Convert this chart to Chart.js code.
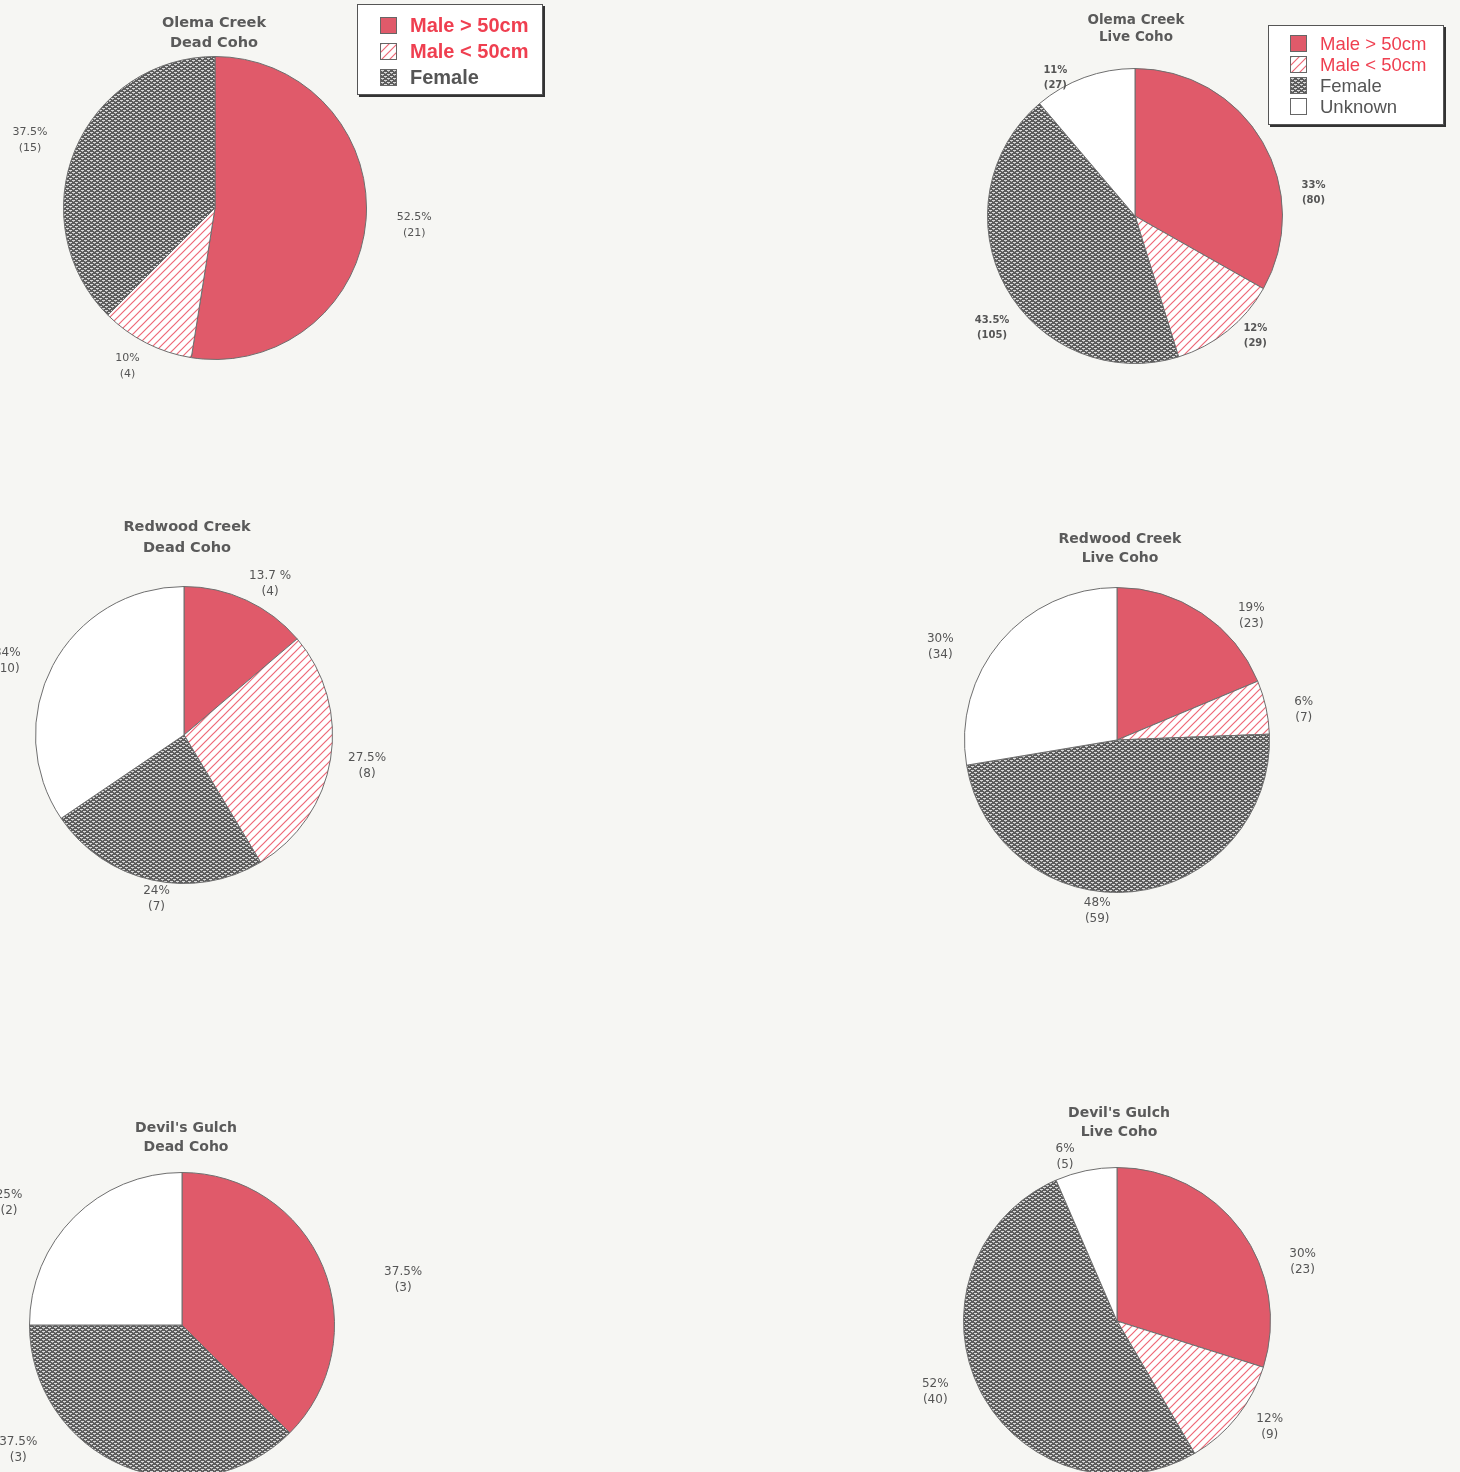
<!DOCTYPE html>
<html>
<head>
<meta charset="utf-8">
<script src="https://cdn.jsdelivr.net/npm/chart.js@4.4.1/dist/chart.umd.min.js"></script>
<style>
  body { margin: 0; width: 1460px; height: 1472px; overflow: hidden; background: #f6f6f3; position: relative; font-family: "DejaVu Sans", sans-serif; }
  canvas.pie { position: absolute; }
  .title { position: absolute; transform: translateX(-50%); text-align: center; font-weight: bold; color: #5a5a5a; white-space: nowrap; }
  .legend { position: absolute; background: #fff; border: 1px solid #555; box-shadow: 2px 2px 0 #333; font-family: "Liberation Sans", Arial, sans-serif; }
  .legend .row { position: absolute; white-space: nowrap; display: flex; align-items: center; }
  .legend canvas { border: 1px solid #666; margin-right: 13px; }
</style>
</head>
<body>
<script>
// categories + counts
const categories = ['Male > 50cm', 'Male < 50cm', 'Female', 'Unknown'];

const olemaDead = [21, 4, 15];
const olemaLive = [80, 29, 105, 27];
const redwoodDead = [4, 8, 7, 10];
const redwoodLive = [23, 7, 59, 34];
const devilsDead = [3, 0, 3, 2];
const devilsLive = [23, 9, 40, 5];

// percentages as printed on the chart
const olemaDeadPct = ['52.5%', '10%', '37.5%'];
const olemaLivePct = ['33%', '12%', '43.5%', '11%'];
const redwoodDeadPct = ['13.7 %', '27.5%', '24%', '34%'];
const redwoodLivePct = ['19%', '6%', '48%', '30%'];
const devilsDeadPct = ['37.5%', '', '37.5%', '25%'];
const devilsLivePct = ['30%', '12%', '52%', '6%'];

const RED = '#e05a6a';

function hatchPattern(ctxSrc) {
    const c = document.createElement('canvas');
    c.width = c.height = 8;
    const x = c.getContext('2d');
    x.fillStyle = '#fff';
    x.fillRect(0, 0, 8, 8);
    x.strokeStyle = '#ee6877';
    x.lineWidth = 1.2;
    x.beginPath();
    x.moveTo(0, 8); x.lineTo(8, 0);
    x.moveTo(-2, 2); x.lineTo(2, -2);
    x.moveTo(6, 10); x.lineTo(10, 6);
    x.stroke();
    return ctxSrc.createPattern(c, 'repeat');
}

// grey speckle for Female (brick of small white blobs)
function specklePattern(ctxSrc) {
    const c = document.createElement('canvas');
    c.width = 6;
    c.height = 4;
    const x = c.getContext('2d');
    x.fillStyle = '#5c5c5c';
    x.fillRect(0, 0, 6, 4);
    x.fillStyle = '#dadada';
    x.fillRect(0, 0, 3, 1);
    x.fillRect(3, 2, 3, 1);
    x.fillStyle = '#ababab';
    x.fillRect(1, 1, 1, 1);
    x.fillRect(4, 3, 1, 1);
    return ctxSrc.createPattern(c, 'repeat');
}

function fillsFor(ctx) {
    return [RED, hatchPattern(ctx), specklePattern(ctx), '#ffffff'];
}

// percent + (count) written round the pie, placed by angle from the top and radius factor
const sliceLabels = {
    id: 'sliceLabels',
    afterDraw(chart, args, opts) {
        const ctx = chart.ctx;
        const meta = chart.getDatasetMeta(0);
        const { x, y, outerRadius } = meta.data[0].getProps(['x', 'y', 'outerRadius'], true);
        const values = chart.data.datasets[0].data;
        ctx.save();
        ctx.font = opts.font;
        ctx.fillStyle = '#555';
        ctx.textAlign = 'center';
        ctx.textBaseline = 'middle';
        values.forEach((v, i) => {
            if (!v) return;
            const [deg, k] = opts.spots[i];
            const a = deg * Math.PI / 180;
            const lx = x + Math.sin(a) * outerRadius * k;
            const ly = y - Math.cos(a) * outerRadius * k;
            ctx.fillText(opts.text[i], lx, ly - opts.gap);
            ctx.fillText('(' + v + ')', lx, ly + opts.gap);
        });
        ctx.restore();
    }
};

const SIZE = 580;

function makePie(cfg) {
    const canvas = document.createElement('canvas');
    canvas.className = 'pie';
    canvas.width = SIZE;
    canvas.height = SIZE;
    canvas.style.left = (cfg.cx - SIZE / 2) + 'px';
    canvas.style.top = (cfg.cy - SIZE / 2) + 'px';
    document.body.appendChild(canvas);
    const ctx = canvas.getContext('2d');

    new Chart(ctx, {
        type: 'pie',
        data: {
            labels: categories.slice(0, cfg.values.length),
            datasets: [{
                data: cfg.values,
                backgroundColor: fillsFor(ctx).slice(0, cfg.values.length),
                borderColor: '#6e6e6e',
                borderWidth: 1
            }]
        },
        options: {
            responsive: false,
            animation: false,
            layout: { padding: SIZE / 2 - cfg.r },
            plugins: {
                legend: { display: false },
                tooltip: { enabled: false },
                sliceLabels: { text: cfg.pct, spots: cfg.spots, font: cfg.font, gap: cfg.gap }
            }
        },
        plugins: [sliceLabels]
    });

    const t = document.createElement('div');
    t.className = 'title';
    t.style.left = cfg.tx + 'px';
    t.style.top = cfg.ty + 'px';
    t.style.fontSize = cfg.tsize + 'px';
    t.style.lineHeight = cfg.tlh + 'px';
    t.innerHTML = cfg.title.join('<br>');
    document.body.appendChild(t);
}

makePie({ values: olemaDead, pct: olemaDeadPct, cx: 215, cy: 208, r: 152,
    spots: [[95, 1.32], [209, 1.19], [290, 1.30]], font: '11px "DejaVu Sans"', gap: 8,
    title: ['Olema Creek', 'Dead Coho'], tx: 214, ty: 12, tsize: 14.5, tlh: 20 });

makePie({ values: olemaLive, pct: olemaLivePct, cx: 1135, cy: 216, r: 148,
    spots: [[82.6, 1.22], [134.8, 1.15], [232, 1.23], [330, 1.08]], font: 'bold 10px "DejaVu Sans"', gap: 7.5,
    title: ['Olema Creek', 'Live Coho'], tx: 1136, ty: 11, tsize: 13.5, tlh: 17 });

makePie({ values: redwoodDead, pct: redwoodDeadPct, cx: 184, cy: 735, r: 149,
    spots: [[29.7, 1.17], [99.5, 1.25], [189.5, 1.12], [292.7, 1.29]], font: '12px "DejaVu Sans"', gap: 8,
    title: ['Redwood Creek', 'Dead Coho'], tx: 187, ty: 516, tsize: 14.5, tlh: 21 });

makePie({ values: redwoodLive, pct: redwoodLivePct, cx: 1117, cy: 740, r: 153,
    spots: [[47.2, 1.2], [80.9, 1.24], [186.6, 1.13], [297.8, 1.31]], font: '12px "DejaVu Sans"', gap: 8,
    title: ['Redwood Creek', 'Live Coho'], tx: 1120, ty: 529, tsize: 14, tlh: 19 });

makePie({ values: devilsDead, pct: devilsDeadPct, cx: 182, cy: 1325, r: 153,
    spots: [[78.5, 1.48], [0, 0], [232.7, 1.35], [305.3, 1.39]], font: '12px "DejaVu Sans"', gap: 8,
    title: ["Devil's Gulch", 'Dead Coho'], tx: 186, ty: 1118, tsize: 14, tlh: 19 });

makePie({ values: devilsLive, pct: devilsLivePct, cx: 1117, cy: 1321, r: 154,
    spots: [[72.2, 1.27], [124.7, 1.21], [248.8, 1.27], [342.4, 1.12]], font: '12px "DejaVu Sans"', gap: 8,
    title: ["Devil's Gulch", 'Live Coho'], tx: 1119, ty: 1103, tsize: 14, tlh: 19 });

// legends (html boxes with pattern swatches)
function makeLegend(box, items, opts) {
    const el = document.createElement('div');
    el.className = 'legend';
    Object.assign(el.style, { left: box[0] + 'px', top: box[1] + 'px', width: box[2] + 'px', height: box[3] + 'px' });
    items.forEach((name, i) => {
        const row = document.createElement('div');
        row.className = 'row';
        row.style.left = opts.padX + 'px';
        row.style.top = (opts.padY + i * opts.step) + 'px';
        row.style.height = opts.step + 'px';
        const sw = document.createElement('canvas');
        sw.width = sw.height = opts.sw;
        const sctx = sw.getContext('2d');
        sctx.fillStyle = fillsFor(sctx)[categories.indexOf(name)];
        sctx.fillRect(0, 0, opts.sw, opts.sw);
        row.appendChild(sw);
        const span = document.createElement('span');
        span.textContent = name;
        span.style.fontSize = opts.fs + 'px';
        span.style.fontWeight = opts.weight;
        span.style.color = i < 2 ? '#ef3f50' : '#555';
        row.appendChild(span);
        el.appendChild(row);
    });
    document.body.appendChild(el);
}

makeLegend([357, 4, 184, 89], categories.slice(0, 3), { padX: 22, padY: 7, step: 26, sw: 15, fs: 20, weight: 'bold' });
makeLegend([1268, 25, 174, 98], categories, { padX: 21, padY: 7, step: 21, sw: 15, fs: 18.5, weight: 'normal' });
</script>
</body>
</html>
